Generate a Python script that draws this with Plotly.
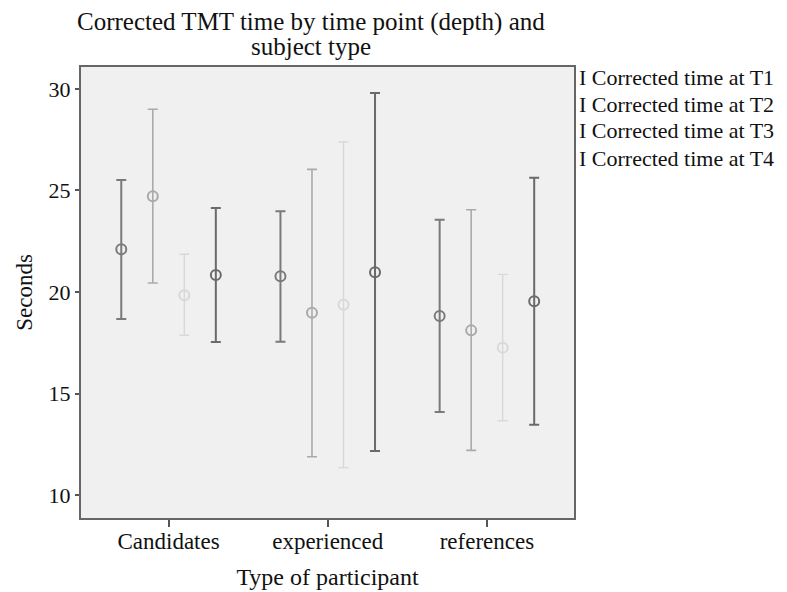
import plotly.graph_objects as go

categories = ["Candidates", "experienced", "references"]
series_names = ["Corrected time at T1", "Corrected time at T2",
                "Corrected time at T3", "Corrected time at T4"]
# mean, upper and lower CI bound per series (Candidates, experienced, references)
mean_t1 = [22.1, 20.77, 18.82]
upper_t1 = [25.52, 23.98, 23.56]
lower_t1 = [18.67, 17.55, 14.09]
mean_t2 = [24.71, 18.98, 18.11]
upper_t2 = [29.0, 26.04, 24.05]
lower_t2 = [20.44, 11.89, 12.2]
mean_t3 = [19.84, 19.37, 17.26]
upper_t3 = [21.86, 27.39, 20.87]
lower_t3 = [17.87, 11.35, 13.66]
mean_t4 = [20.84, 20.97, 19.54]
upper_t4 = [24.14, 29.8, 25.62]
lower_t4 = [17.54, 12.17, 13.46]
y_ticks = [10, 15, 20, 25, 30]
title_lines = ["Corrected TMT time by time point (depth) and", "subject type"]

means = [mean_t1, mean_t2, mean_t3, mean_t4]
uppers = [upper_t1, upper_t2, upper_t3, upper_t4]
lowers = [lower_t1, lower_t2, lower_t3, lower_t4]
colors = ["#7a7a7a", "#aaaaaa", "#d8d8d8", "#6a6a6a"]
widths = [2, 1.6, 1.4, 2]
offsets = [-0.297, -0.099, 0.099, 0.297]

FONT = "Liberation Serif, Times New Roman, serif"
W, H = 787, 592
L, R, T, B = 81, 213, 67, 74
pw = W - L - R
ph = H - T - B

fig = go.Figure()
for i in range(4):
    xs = [j + offsets[i] for j in range(len(categories))]
    fig.add_trace(go.Scatter(
        x=xs, y=means[i], mode="markers", name=series_names[i],
        marker=dict(symbol="circle-open", size=10, color=colors[i],
                    line=dict(width=2, color=colors[i])),
        error_y=dict(type="data", symmetric=False,
                     array=[u - m for u, m in zip(uppers[i], means[i])],
                     arrayminus=[m - lo for m, lo in zip(means[i], lowers[i])],
                     color=colors[i], thickness=widths[i], width=5),
        showlegend=False,
    ))

def px_x(px):
    return (px - L) / pw

def px_y(py):
    return 1 - (py - T) / ph

annotations = []
for i, name in enumerate(series_names):
    annotations.append(dict(
        text="I " + name, xref="paper", yref="paper",
        x=px_x(577), y=px_y(77 + 27 * i), xanchor="left", yanchor="middle",
        showarrow=False, font=dict(family=FONT, size=22, color="#111111")))

for k, line in enumerate(title_lines):
    annotations.append(dict(
        text=line, xref="paper", yref="paper", x=px_x(311), y=px_y(22 + 25 * k),
        xanchor="center", yanchor="middle", showarrow=False,
        font=dict(family=FONT, size=25, color="#111111")))

fig.update_layout(
    width=W, height=H,
    margin=dict(l=L, r=R, t=T, b=B, pad=0, autoexpand=False),
    paper_bgcolor="white", plot_bgcolor="#f0f0f0",
    font=dict(family=FONT, size=22, color="#111111"),
    annotations=annotations,
    showlegend=False,
)
fig.update_xaxes(
    range=[-0.55, 2.547], tickvals=list(range(len(categories))),
    ticktext=categories, ticks="outside", ticklen=7, tickwidth=2,
    tickcolor="#555555", showgrid=False, zeroline=False, automargin=False,
    ticklabelstandoff=-6,
    showline=True, linecolor="#666666", linewidth=2, mirror=True,
    tickfont=dict(family=FONT, size=23, color="#111111"),
    title=dict(text="Type of participant", standoff=16,
               font=dict(family=FONT, size=24, color="#111111")),
)
fig.update_yaxes(
    range=[8.87, 31.08], tickvals=y_ticks, ticks="outside", ticklen=4,
    tickwidth=2, tickcolor="#555555", showgrid=False, zeroline=False,
    automargin=False,
    showline=True, linecolor="#666666", linewidth=2, mirror=True,
    tickfont=dict(family=FONT, size=22, color="#111111"),
    title=dict(text="Seconds", standoff=10,
               font=dict(family=FONT, size=23, color="#111111")),
)

fig.write_html("out.html", config={"displayModeBar": False},
               post_script="document.body.style.margin='0px';")
